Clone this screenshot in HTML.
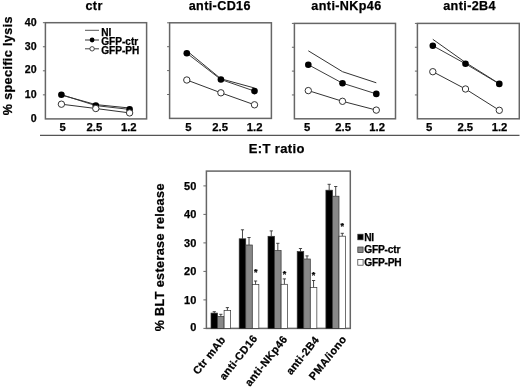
<!DOCTYPE html>
<html><head><meta charset="utf-8"><style>
html,body{margin:0;padding:0;background:#fff;}
body{width:520px;height:389px;overflow:hidden;font-family:"Liberation Sans",sans-serif;}
svg{display:block;will-change:transform;}
</style></head><body>
<svg width="520" height="389" viewBox="0 0 520 389">
<rect width="520" height="389" fill="#fff"/>
<rect x="45.4" y="22.7" width="101.19999999999999" height="96.2" fill="none" stroke="#666" stroke-width="1.5"/>
<line x1="42.9" y1="22.7" x2="45.4" y2="22.7" stroke="#666" stroke-width="1"/>
<line x1="42.9" y1="46.75" x2="45.4" y2="46.75" stroke="#666" stroke-width="1"/>
<line x1="42.9" y1="70.8" x2="45.4" y2="70.8" stroke="#666" stroke-width="1"/>
<line x1="42.9" y1="94.85000000000001" x2="45.4" y2="94.85000000000001" stroke="#666" stroke-width="1"/>
<polyline points="61.4,95.0 95.8,104.6 129.6,108.0" fill="none" stroke="#333" stroke-width="1"/>
<polyline points="61.4,94.7 95.8,105.6 129.6,109.4" fill="none" stroke="#333" stroke-width="0.95"/>
<circle cx="61.4" cy="94.7" r="3.3" fill="#000"/>
<circle cx="95.8" cy="105.6" r="3.3" fill="#000"/>
<circle cx="129.6" cy="109.4" r="3.3" fill="#000"/>
<polyline points="61.4,104.2 95.8,108.5 129.6,112.9" fill="none" stroke="#333" stroke-width="1"/>
<circle cx="61.4" cy="104.2" r="3.2" fill="#fff" stroke="#333" stroke-width="1"/>
<circle cx="95.8" cy="108.5" r="3.2" fill="#fff" stroke="#333" stroke-width="1"/>
<circle cx="129.6" cy="112.9" r="3.2" fill="#fff" stroke="#333" stroke-width="1"/>
<text x="62.7" y="130.6" font-family="Liberation Sans, sans-serif" font-weight="bold" stroke="#000" stroke-width="0.25" font-size="11.3" text-anchor="middle">5</text>
<text x="94.4" y="130.6" font-family="Liberation Sans, sans-serif" font-weight="bold" stroke="#000" stroke-width="0.25" font-size="11.3" text-anchor="middle">2.5</text>
<text x="128.8" y="130.6" font-family="Liberation Sans, sans-serif" font-weight="bold" stroke="#000" stroke-width="0.25" font-size="11.3" text-anchor="middle">1.2</text>
<text x="94.1" y="10.4" font-family="Liberation Sans, sans-serif" font-weight="bold" stroke="#000" stroke-width="0.25" letter-spacing="0.38" font-size="12.6" text-anchor="middle">ctr</text>
<rect x="169.6" y="22.8" width="101.79999999999998" height="95.60000000000001" fill="none" stroke="#666" stroke-width="1.5"/>
<line x1="167.1" y1="22.8" x2="169.6" y2="22.8" stroke="#666" stroke-width="1"/>
<line x1="167.1" y1="46.7" x2="169.6" y2="46.7" stroke="#666" stroke-width="1"/>
<line x1="167.1" y1="70.60000000000001" x2="169.6" y2="70.60000000000001" stroke="#666" stroke-width="1"/>
<line x1="167.1" y1="94.5" x2="169.6" y2="94.5" stroke="#666" stroke-width="1"/>
<polyline points="186.8,50.8 220.9,78.8 254.5,88.0" fill="none" stroke="#333" stroke-width="1"/>
<polyline points="186.8,53.2 220.9,79.5 254.5,91.1" fill="none" stroke="#333" stroke-width="0.95"/>
<circle cx="186.8" cy="53.2" r="3.3" fill="#000"/>
<circle cx="220.9" cy="79.5" r="3.3" fill="#000"/>
<circle cx="254.5" cy="91.1" r="3.3" fill="#000"/>
<polyline points="186.8,80.0 220.9,92.8 254.5,104.8" fill="none" stroke="#333" stroke-width="1"/>
<circle cx="186.8" cy="80.0" r="3.2" fill="#fff" stroke="#333" stroke-width="1"/>
<circle cx="220.9" cy="92.8" r="3.2" fill="#fff" stroke="#333" stroke-width="1"/>
<circle cx="254.5" cy="104.8" r="3.2" fill="#fff" stroke="#333" stroke-width="1"/>
<text x="188.3" y="130.6" font-family="Liberation Sans, sans-serif" font-weight="bold" stroke="#000" stroke-width="0.25" font-size="11.3" text-anchor="middle">5</text>
<text x="220.1" y="130.6" font-family="Liberation Sans, sans-serif" font-weight="bold" stroke="#000" stroke-width="0.25" font-size="11.3" text-anchor="middle">2.5</text>
<text x="254.7" y="130.6" font-family="Liberation Sans, sans-serif" font-weight="bold" stroke="#000" stroke-width="0.25" font-size="11.3" text-anchor="middle">1.2</text>
<text x="219.8" y="10.4" font-family="Liberation Sans, sans-serif" font-weight="bold" stroke="#000" stroke-width="0.25" letter-spacing="0.38" font-size="12.6" text-anchor="middle">anti-CD16</text>
<rect x="294.4" y="23.4" width="101.10000000000002" height="95.4" fill="none" stroke="#666" stroke-width="1.5"/>
<line x1="291.9" y1="23.4" x2="294.4" y2="23.4" stroke="#666" stroke-width="1"/>
<line x1="291.9" y1="47.25" x2="294.4" y2="47.25" stroke="#666" stroke-width="1"/>
<line x1="291.9" y1="71.1" x2="294.4" y2="71.1" stroke="#666" stroke-width="1"/>
<line x1="291.9" y1="94.95000000000002" x2="294.4" y2="94.95000000000002" stroke="#666" stroke-width="1"/>
<polyline points="308.3,50.8 342.5,71.7 376.3,82.8" fill="none" stroke="#333" stroke-width="1"/>
<polyline points="308.3,64.7 342.5,83.2 376.3,93.9" fill="none" stroke="#333" stroke-width="0.95"/>
<circle cx="308.3" cy="64.7" r="3.3" fill="#000"/>
<circle cx="342.5" cy="83.2" r="3.3" fill="#000"/>
<circle cx="376.3" cy="93.9" r="3.3" fill="#000"/>
<polyline points="308.3,90.6 342.5,101.3 376.3,110.1" fill="none" stroke="#333" stroke-width="1"/>
<circle cx="308.3" cy="90.6" r="3.2" fill="#fff" stroke="#333" stroke-width="1"/>
<circle cx="342.5" cy="101.3" r="3.2" fill="#fff" stroke="#333" stroke-width="1"/>
<circle cx="376.3" cy="110.1" r="3.2" fill="#fff" stroke="#333" stroke-width="1"/>
<text x="307.2" y="130.6" font-family="Liberation Sans, sans-serif" font-weight="bold" stroke="#000" stroke-width="0.25" font-size="11.3" text-anchor="middle">5</text>
<text x="343.1" y="130.6" font-family="Liberation Sans, sans-serif" font-weight="bold" stroke="#000" stroke-width="0.25" font-size="11.3" text-anchor="middle">2.5</text>
<text x="377.2" y="130.6" font-family="Liberation Sans, sans-serif" font-weight="bold" stroke="#000" stroke-width="0.25" font-size="11.3" text-anchor="middle">1.2</text>
<text x="346.5" y="10.4" font-family="Liberation Sans, sans-serif" font-weight="bold" stroke="#000" stroke-width="0.25" letter-spacing="0.38" font-size="12.6" text-anchor="middle">anti-NKp46</text>
<rect x="417.4" y="23.4" width="101.89999999999998" height="95.4" fill="none" stroke="#666" stroke-width="1.5"/>
<line x1="414.9" y1="23.4" x2="417.4" y2="23.4" stroke="#666" stroke-width="1"/>
<line x1="414.9" y1="47.25" x2="417.4" y2="47.25" stroke="#666" stroke-width="1"/>
<line x1="414.9" y1="71.1" x2="417.4" y2="71.1" stroke="#666" stroke-width="1"/>
<line x1="414.9" y1="94.95000000000002" x2="417.4" y2="94.95000000000002" stroke="#666" stroke-width="1"/>
<polyline points="432.8,39.3 465.5,62.5 499.3,83.7" fill="none" stroke="#333" stroke-width="1"/>
<polyline points="432.8,45.7 465.5,63.8 499.3,83.9" fill="none" stroke="#333" stroke-width="0.95"/>
<circle cx="432.8" cy="45.7" r="3.3" fill="#000"/>
<circle cx="465.5" cy="63.8" r="3.3" fill="#000"/>
<circle cx="499.3" cy="83.9" r="3.3" fill="#000"/>
<polyline points="432.8,71.7 465.5,89.0 499.3,110.3" fill="none" stroke="#333" stroke-width="1"/>
<circle cx="432.8" cy="71.7" r="3.2" fill="#fff" stroke="#333" stroke-width="1"/>
<circle cx="465.5" cy="89.0" r="3.2" fill="#fff" stroke="#333" stroke-width="1"/>
<circle cx="499.3" cy="110.3" r="3.2" fill="#fff" stroke="#333" stroke-width="1"/>
<text x="429.2" y="130.6" font-family="Liberation Sans, sans-serif" font-weight="bold" stroke="#000" stroke-width="0.25" font-size="11.3" text-anchor="middle">5</text>
<text x="465.3" y="130.6" font-family="Liberation Sans, sans-serif" font-weight="bold" stroke="#000" stroke-width="0.25" font-size="11.3" text-anchor="middle">2.5</text>
<text x="499.5" y="130.6" font-family="Liberation Sans, sans-serif" font-weight="bold" stroke="#000" stroke-width="0.25" font-size="11.3" text-anchor="middle">1.2</text>
<text x="469.6" y="10.4" font-family="Liberation Sans, sans-serif" font-weight="bold" stroke="#000" stroke-width="0.25" letter-spacing="0.38" font-size="12.6" text-anchor="middle">anti-2B4</text>
<text x="36.6" y="25.6" font-family="Liberation Sans, sans-serif" font-weight="bold" stroke="#000" stroke-width="0.25" font-size="10.6" text-anchor="end">40</text>
<text x="36.6" y="49.8" font-family="Liberation Sans, sans-serif" font-weight="bold" stroke="#000" stroke-width="0.25" font-size="10.6" text-anchor="end">30</text>
<text x="36.6" y="73.39999999999999" font-family="Liberation Sans, sans-serif" font-weight="bold" stroke="#000" stroke-width="0.25" font-size="10.6" text-anchor="end">20</text>
<text x="36.6" y="98.3" font-family="Liberation Sans, sans-serif" font-weight="bold" stroke="#000" stroke-width="0.25" font-size="10.6" text-anchor="end">10</text>
<text x="36.6" y="121.8" font-family="Liberation Sans, sans-serif" font-weight="bold" stroke="#000" stroke-width="0.25" font-size="10.6" text-anchor="end">0</text>
<line x1="85" y1="30.3" x2="99" y2="30.3" stroke="#555" stroke-width="1"/>
<line x1="85" y1="40" x2="99" y2="40" stroke="#333" stroke-width="1"/>
<circle cx="92.1" cy="40" r="2.4" fill="#000"/>
<line x1="85" y1="48.8" x2="99" y2="48.8" stroke="#444" stroke-width="1"/>
<circle cx="92.1" cy="48.8" r="2.2" fill="#fff" stroke="#333" stroke-width="0.9"/>
<text x="101.2" y="35.6" font-family="Liberation Sans, sans-serif" font-weight="bold" stroke="#000" stroke-width="0.25" font-size="10.1">NI</text>
<text x="101.2" y="44.6" font-family="Liberation Sans, sans-serif" font-weight="bold" stroke="#000" stroke-width="0.25" font-size="10.1">GFP-ctr</text>
<text x="101.2" y="53.5" font-family="Liberation Sans, sans-serif" font-weight="bold" stroke="#000" stroke-width="0.25" font-size="10.1">GFP-PH</text>
<text transform="translate(11.6,65.7) rotate(-90)" font-family="Liberation Sans, sans-serif" font-weight="bold" stroke="#000" stroke-width="0.25" letter-spacing="0.38" font-size="12.6" text-anchor="middle">% specific lysis</text>
<line x1="40" y1="135.4" x2="519.5" y2="135.4" stroke="#555" stroke-width="1.4"/>
<text x="276.8" y="152.8" font-family="Liberation Sans, sans-serif" font-weight="bold" stroke="#000" stroke-width="0.25" letter-spacing="0.38" font-size="13" text-anchor="middle">E:T ratio</text>
<rect x="206.4" y="171.1" width="143.9" height="157.29999999999998" fill="none" stroke="#666" stroke-width="1.5"/>
<line x1="203.4" y1="328.4" x2="206.4" y2="328.4" stroke="#666" stroke-width="1"/>
<line x1="203.4" y1="299.9" x2="206.4" y2="299.9" stroke="#666" stroke-width="1"/>
<line x1="203.4" y1="271.4" x2="206.4" y2="271.4" stroke="#666" stroke-width="1"/>
<line x1="203.4" y1="242.89999999999998" x2="206.4" y2="242.89999999999998" stroke="#666" stroke-width="1"/>
<line x1="203.4" y1="214.39999999999998" x2="206.4" y2="214.39999999999998" stroke="#666" stroke-width="1"/>
<line x1="203.4" y1="185.89999999999998" x2="206.4" y2="185.89999999999998" stroke="#666" stroke-width="1"/>
<text x="196.3" y="330.69999999999993" font-family="Liberation Sans, sans-serif" font-weight="bold" stroke="#000" stroke-width="0.25" font-size="11" text-anchor="end">0</text>
<text x="196.3" y="303.79999999999995" font-family="Liberation Sans, sans-serif" font-weight="bold" stroke="#000" stroke-width="0.25" font-size="11" text-anchor="end">10</text>
<text x="196.3" y="275.29999999999995" font-family="Liberation Sans, sans-serif" font-weight="bold" stroke="#000" stroke-width="0.25" font-size="11" text-anchor="end">20</text>
<text x="196.3" y="246.79999999999998" font-family="Liberation Sans, sans-serif" font-weight="bold" stroke="#000" stroke-width="0.25" font-size="11" text-anchor="end">30</text>
<text x="196.3" y="218.29999999999998" font-family="Liberation Sans, sans-serif" font-weight="bold" stroke="#000" stroke-width="0.25" font-size="11" text-anchor="end">40</text>
<text x="196.3" y="189.79999999999998" font-family="Liberation Sans, sans-serif" font-weight="bold" stroke="#000" stroke-width="0.25" font-size="11" text-anchor="end">50</text>
<line x1="214.275" y1="311.7" x2="214.275" y2="313.1" stroke="#333" stroke-width="0.9"/>
<line x1="212.675" y1="311.7" x2="215.875" y2="311.7" stroke="#333" stroke-width="0.9"/>
<line x1="220.82500000000002" y1="314.3" x2="220.82500000000002" y2="316.4" stroke="#333" stroke-width="0.9"/>
<line x1="219.22500000000002" y1="314.3" x2="222.425" y2="314.3" stroke="#333" stroke-width="0.9"/>
<line x1="227.375" y1="307.6" x2="227.375" y2="310.6" stroke="#333" stroke-width="0.9"/>
<line x1="225.775" y1="307.6" x2="228.975" y2="307.6" stroke="#333" stroke-width="0.9"/>
<rect x="211.0" y="313.1" width="6.55" height="15.299999999999955" fill="#000" stroke="#333" stroke-width="0.7"/>
<rect x="217.55" y="316.4" width="6.55" height="12.0" fill="#888" stroke="#333" stroke-width="0.7"/>
<rect x="224.1" y="310.6" width="6.55" height="17.799999999999955" fill="#fff" stroke="#333" stroke-width="0.7"/>
<line x1="242.475" y1="229.8" x2="242.475" y2="238.8" stroke="#333" stroke-width="0.9"/>
<line x1="240.875" y1="229.8" x2="244.075" y2="229.8" stroke="#333" stroke-width="0.9"/>
<line x1="249.025" y1="237.5" x2="249.025" y2="245.0" stroke="#333" stroke-width="0.9"/>
<line x1="247.425" y1="237.5" x2="250.625" y2="237.5" stroke="#333" stroke-width="0.9"/>
<line x1="255.575" y1="281.0" x2="255.575" y2="284.6" stroke="#333" stroke-width="0.9"/>
<line x1="253.975" y1="281.0" x2="257.175" y2="281.0" stroke="#333" stroke-width="0.9"/>
<rect x="239.2" y="238.8" width="6.55" height="89.59999999999997" fill="#000" stroke="#333" stroke-width="0.7"/>
<rect x="245.75" y="245.0" width="6.55" height="83.39999999999998" fill="#888" stroke="#333" stroke-width="0.7"/>
<rect x="252.29999999999998" y="284.6" width="6.55" height="43.799999999999955" fill="#fff" stroke="#333" stroke-width="0.7"/>
<line x1="271.275" y1="230.9" x2="271.275" y2="236.3" stroke="#333" stroke-width="0.9"/>
<line x1="269.67499999999995" y1="230.9" x2="272.875" y2="230.9" stroke="#333" stroke-width="0.9"/>
<line x1="277.825" y1="243.3" x2="277.825" y2="250.6" stroke="#333" stroke-width="0.9"/>
<line x1="276.22499999999997" y1="243.3" x2="279.425" y2="243.3" stroke="#333" stroke-width="0.9"/>
<line x1="284.375" y1="278.9" x2="284.375" y2="284.3" stroke="#333" stroke-width="0.9"/>
<line x1="282.775" y1="278.9" x2="285.975" y2="278.9" stroke="#333" stroke-width="0.9"/>
<rect x="268.0" y="236.3" width="6.55" height="92.09999999999997" fill="#000" stroke="#333" stroke-width="0.7"/>
<rect x="274.55" y="250.6" width="6.55" height="77.79999999999998" fill="#888" stroke="#333" stroke-width="0.7"/>
<rect x="281.1" y="284.3" width="6.55" height="44.099999999999966" fill="#fff" stroke="#333" stroke-width="0.7"/>
<line x1="300.47499999999997" y1="248.5" x2="300.47499999999997" y2="251.6" stroke="#333" stroke-width="0.9"/>
<line x1="298.87499999999994" y1="248.5" x2="302.075" y2="248.5" stroke="#333" stroke-width="0.9"/>
<line x1="307.025" y1="255.9" x2="307.025" y2="259.0" stroke="#333" stroke-width="0.9"/>
<line x1="305.42499999999995" y1="255.9" x2="308.625" y2="255.9" stroke="#333" stroke-width="0.9"/>
<line x1="313.575" y1="280.5" x2="313.575" y2="287.6" stroke="#333" stroke-width="0.9"/>
<line x1="311.97499999999997" y1="280.5" x2="315.175" y2="280.5" stroke="#333" stroke-width="0.9"/>
<rect x="297.2" y="251.6" width="6.55" height="76.79999999999998" fill="#000" stroke="#333" stroke-width="0.7"/>
<rect x="303.75" y="259.0" width="6.55" height="69.39999999999998" fill="#888" stroke="#333" stroke-width="0.7"/>
<rect x="310.3" y="287.6" width="6.55" height="40.799999999999955" fill="#fff" stroke="#333" stroke-width="0.7"/>
<line x1="329.17499999999995" y1="184.3" x2="329.17499999999995" y2="190.2" stroke="#333" stroke-width="0.9"/>
<line x1="327.57499999999993" y1="184.3" x2="330.775" y2="184.3" stroke="#333" stroke-width="0.9"/>
<line x1="335.72499999999997" y1="186.5" x2="335.72499999999997" y2="196.2" stroke="#333" stroke-width="0.9"/>
<line x1="334.12499999999994" y1="186.5" x2="337.325" y2="186.5" stroke="#333" stroke-width="0.9"/>
<line x1="342.275" y1="233.3" x2="342.275" y2="236.2" stroke="#333" stroke-width="0.9"/>
<line x1="340.67499999999995" y1="233.3" x2="343.875" y2="233.3" stroke="#333" stroke-width="0.9"/>
<rect x="325.9" y="190.2" width="6.55" height="138.2" fill="#000" stroke="#333" stroke-width="0.7"/>
<rect x="332.45" y="196.2" width="6.55" height="132.2" fill="#888" stroke="#333" stroke-width="0.7"/>
<rect x="339.0" y="236.2" width="6.55" height="92.19999999999999" fill="#fff" stroke="#333" stroke-width="0.7"/>
<text x="255.7" y="275.3" font-family="Liberation Sans, sans-serif" font-weight="bold" stroke="#000" stroke-width="0.25" font-size="9" text-anchor="middle">*</text>
<text x="284.5" y="276.9" font-family="Liberation Sans, sans-serif" font-weight="bold" stroke="#000" stroke-width="0.25" font-size="9" text-anchor="middle">*</text>
<text x="313.5" y="277.5" font-family="Liberation Sans, sans-serif" font-weight="bold" stroke="#000" stroke-width="0.25" font-size="9" text-anchor="middle">*</text>
<text x="342.3" y="229.4" font-family="Liberation Sans, sans-serif" font-weight="bold" stroke="#000" stroke-width="0.25" font-size="9" text-anchor="middle">*</text>
<rect x="357.8" y="234.2" width="5.3" height="5.6" fill="#000" stroke="#333" stroke-width="0.7"/>
<text x="364.2" y="240.6" font-family="Liberation Sans, sans-serif" font-weight="bold" stroke="#000" stroke-width="0.25" font-size="10.2" letter-spacing="-0.2">NI</text>
<rect x="357.8" y="247.0" width="5.3" height="5.6" fill="#888" stroke="#333" stroke-width="0.7"/>
<text x="364.2" y="253.3" font-family="Liberation Sans, sans-serif" font-weight="bold" stroke="#000" stroke-width="0.25" font-size="10.2" letter-spacing="-0.2">GFP-ctr</text>
<rect x="357.8" y="259.6" width="5.3" height="5.6" fill="#fff" stroke="#333" stroke-width="0.7"/>
<text x="364.2" y="266.0" font-family="Liberation Sans, sans-serif" font-weight="bold" stroke="#000" stroke-width="0.25" font-size="10.2" letter-spacing="-0.2">GFP-PH</text>
<text transform="translate(163.6,257.3) rotate(-90)" font-family="Liberation Sans, sans-serif" font-weight="bold" stroke="#000" stroke-width="0.25" letter-spacing="0.38" font-size="12.6" text-anchor="middle">% BLT esterase release</text>
<text transform="translate(226.20000000000002,339.79999999999995) rotate(-51.5)" font-family="Liberation Sans, sans-serif" font-weight="bold" stroke="#000" stroke-width="0.25" letter-spacing="0.38" font-size="10.8" text-anchor="end">Ctr mAb</text>
<text transform="translate(257.9,338.59999999999997) rotate(-51.5)" font-family="Liberation Sans, sans-serif" font-weight="bold" stroke="#000" stroke-width="0.25" letter-spacing="0.38" font-size="10.8" text-anchor="end">anti-CD16</text>
<text transform="translate(287.9,339.29999999999995) rotate(-51.5)" font-family="Liberation Sans, sans-serif" font-weight="bold" stroke="#000" stroke-width="0.25" letter-spacing="0.38" font-size="10.8" text-anchor="end">anti-NKp46</text>
<text transform="translate(319.7,339.9) rotate(-51.5)" font-family="Liberation Sans, sans-serif" font-weight="bold" stroke="#000" stroke-width="0.25" letter-spacing="0.38" font-size="10.8" text-anchor="end">anti-2B4</text>
<text transform="translate(347.0,339.4) rotate(-51.5)" font-family="Liberation Sans, sans-serif" font-weight="bold" stroke="#000" stroke-width="0.25" letter-spacing="0.38" font-size="10.8" text-anchor="end">PMA/iono</text>
</svg>
</body></html>
